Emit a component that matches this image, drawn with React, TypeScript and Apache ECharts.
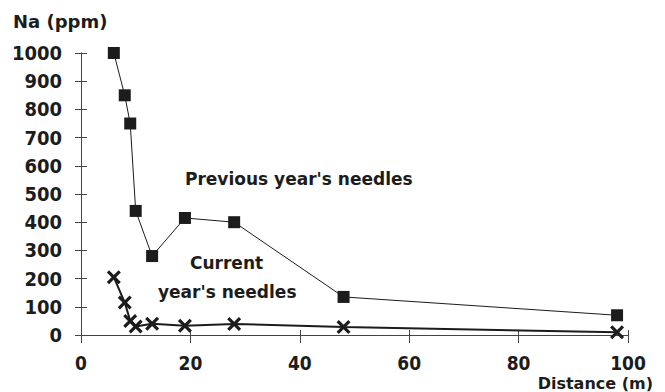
import React, { useEffect, useRef } from "react";
import * as echarts from "echarts";

const distancePrev = [6, 8, 9, 10, 13, 19, 28, 48, 98];
const naPrev = [1000, 850, 750, 440, 280, 415, 400, 135, 70];
const distanceCurr = [6, 8, 9, 10, 13, 19, 28, 48, 98];
const naCurr = [205, 115, 50, 30, 40, 33, 39, 28, 10];
const xTicks = [0, 20, 40, 60, 80, 100];
const yTicks = [0, 100, 200, 300, 400, 500, 600, 700, 800, 900, 1000];

const INK = "#1c1c1c";
const TICK_FONT = "'Liberation Sans Narrow', 'DejaVu Sans Condensed', 'Liberation Sans', sans-serif";
const ANN_FONT = "'DejaVu Sans', 'Liberation Sans', sans-serif";
const X_PATH = "path://M0,1.6 L1.6,0 L5,3.4 L8.4,0 L10,1.6 L6.6,5 L10,8.4 L8.4,10 L5,6.6 L1.6,10 L0,8.4 L3.4,5 Z";

export default function App() {
  const ref = useRef<HTMLDivElement>(null);
  useEffect(() => {
    if (!ref.current) return;
    const chart = echarts.init(ref.current, undefined, { renderer: "svg" });
    const axisLineStyle = { color: "#444", width: 1 };
    const baseY = {
      type: "value" as const,
      min: yTicks[0],
      max: yTicks[yTicks.length - 1],
      interval: 100,
      splitLine: { show: false },
      axisLine: { show: true, lineStyle: axisLineStyle },
    };
    const baseX = {
      type: "value" as const,
      min: xTicks[0],
      max: xTicks[xTicks.length - 1],
      interval: 20,
      splitLine: { show: false },
      axisLine: { show: true, lineStyle: axisLineStyle },
    };
    chart.setOption({
      animation: false,
      backgroundColor: "#ffffff",
      grid: { left: 81, right: 37, top: 53, bottom: 57, containLabel: false },
      xAxis: [
        {
          ...baseX,
          axisTick: { show: true, length: 8, lineStyle: axisLineStyle },
          axisLabel: {
            margin: 19,
            color: INK,
            fontFamily: TICK_FONT,
            fontWeight: "bold",
            fontSize: 19,
            lineHeight: 18,
            formatter: (v: number) => String(v),
          },
        },
        {
          ...baseX,
          position: "bottom",
          axisTick: { show: true, inside: true, length: 5, lineStyle: axisLineStyle },
          axisLabel: { show: false },
        },
      ],
      yAxis: [
        {
          ...baseY,
          axisTick: { show: true, length: 6, lineStyle: axisLineStyle },
          axisLabel: {
            margin: 19,
            color: INK,
            fontFamily: TICK_FONT,
            fontWeight: "bold",
            fontSize: 20,
            formatter: (v: number) => String(v),
          },
        },
        {
          ...baseY,
          position: "left",
          axisTick: { show: true, inside: true, length: 6, lineStyle: axisLineStyle },
          axisLabel: { show: false },
        },
      ],
      series: [
        {
          name: "Previous year's needles",
          type: "line",
          data: distancePrev.map((d, i) => [d, naPrev[i]]),
          symbol: "rect",
          symbolSize: 12,
          lineStyle: { color: INK, width: 1 },
          itemStyle: { color: INK },
          z: 3,
        },
        {
          name: "Current year's needles",
          type: "line",
          data: distanceCurr.map((d, i) => [d, naCurr[i]]),
          symbol: X_PATH,
          symbolSize: 14,
          lineStyle: { color: INK, width: 2 },
          itemStyle: { color: INK },
          z: 3,
        },
      ],
      graphic: [
        {
          type: "text",
          left: 13,
          top: 12,
          style: { text: "Na (ppm)", fill: INK, font: `bold 18px ${ANN_FONT}` },
        },
        {
          type: "text",
          left: 185,
          top: 170,
          style: { text: "Previous year's needles", fill: INK, font: `bold 17px ${ANN_FONT}` },
        },
        {
          type: "text",
          left: 190,
          top: 254,
          style: { text: "Current", fill: INK, font: `bold 17px ${ANN_FONT}` },
        },
        {
          type: "text",
          left: 158,
          top: 283,
          style: { text: "year's needles", fill: INK, font: `bold 17px ${ANN_FONT}` },
        },
        {
          type: "text",
          right: 12,
          top: 375,
          style: { text: "Distance (m)", fill: INK, font: `bold 16px ${ANN_FONT}` },
        },
      ],
    });
    return () => chart.dispose();
  }, []);
  return (
    <div
      ref={ref}
      style={{ position: "fixed", left: 0, top: 0, width: 665, height: 392 }}
    />
  );
}
